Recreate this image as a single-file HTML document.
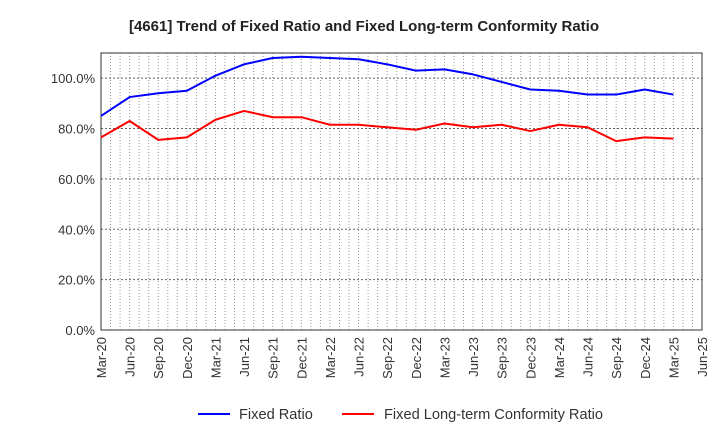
<!DOCTYPE html>
<html><head><meta charset="utf-8"><style>
body{margin:0;background:#fff;font-family:"Liberation Sans",sans-serif;}
</style></head><body>
<svg width="720" height="440" xmlns="http://www.w3.org/2000/svg">
<text x="364" y="31" text-anchor="middle" font-size="15" font-weight="bold" fill="#222">[4661]  Trend of Fixed Ratio and Fixed Long-term Conformity Ratio</text>
<g id="grid"></g><g id="axes"></g><g id="series"></g>
<g>
<line x1="198" y1="414" x2="230" y2="414" stroke="#0000ff" stroke-width="2"/>
<text x="239" y="419" font-size="14.6" fill="#333">Fixed Ratio</text>
<line x1="342" y1="414" x2="374" y2="414" stroke="#ff0000" stroke-width="2"/>
<text x="384" y="419" font-size="14.6" fill="#333">Fixed Long-term Conformity Ratio</text>
</g>
</svg>
<script>
const categories=["Mar-20","Jun-20","Sep-20","Dec-20","Mar-21","Jun-21","Sep-21","Dec-21","Mar-22","Jun-22","Sep-22","Dec-22","Mar-23","Jun-23","Sep-23","Dec-23","Mar-24","Jun-24","Sep-24","Dec-24","Mar-25","Jun-25"];
const fixedRatio=[85,92.5,94,95,101,105.5,108,108.5,108,107.5,105.5,103,103.5,101.5,98.5,95.5,95,93.5,93.5,95.5,93.5];
const conformityRatio=[76.5,83,75.5,76.5,83.5,87,84.5,84.5,81.5,81.5,80.5,79.5,82,80.5,81.5,79,81.5,80.5,75,76.5,76];
const yTicks=[0,20,40,60,80,100];
const L=101,R=702,T=53,B=330,YMAX=110;
const ns="http://www.w3.org/2000/svg";
const xs=i=>L+(R-L)*i/(categories.length-1);
const ys=v=>B-(B-T)*v/YMAX;
function mk(tag,attrs,parent){const e=document.createElementNS(ns,tag);for(const k in attrs)e.setAttribute(k,attrs[k]);document.getElementById(parent).appendChild(e);return e;}
for(let m=1;m<(categories.length-1)*3;m++){const x=L+(R-L)*m/((categories.length-1)*3);
const g=mk("line",{x1:x,x2:x,y1:T,y2:B,stroke:"#999","stroke-dasharray":"1,2","stroke-width":1},"grid");

}
yTicks.forEach(v=>{const y=ys(v);
if(v>0){const g=mk("line",{x1:L,x2:R,y1:y,y2:y,stroke:"#666","stroke-dasharray":"2,2","stroke-width":1},"grid");

}
const t=mk("text",{x:L-6,y:y+5,"text-anchor":"end","font-size":"13",fill:"#333"},"axes");t.textContent=v.toFixed(1)+"%";

});
const fr=mk("rect",{x:L,y:T,width:R-L,height:B-T,fill:"none",stroke:"#333","stroke-width":1},"axes");


categories.forEach((c,i)=>{const x=xs(i);
const t=mk("text",{x:x+5,y:B+7,"text-anchor":"end","font-size":"13",fill:"#333",transform:`rotate(-90 ${x+5} ${B+7})`},"axes");t.textContent=c;

});
function line(d,color,name){const p=mk("polyline",{points:d.map((v,i)=>xs(i)+","+ys(v)).join(" "),fill:"none",stroke:color,"stroke-width":2,"stroke-linejoin":"round"},"series");

}
line(conformityRatio,"#ff0000","conformity-ratio-line");
line(fixedRatio,"#0000ff","fixed-ratio-line");
</script>
</body></html>
